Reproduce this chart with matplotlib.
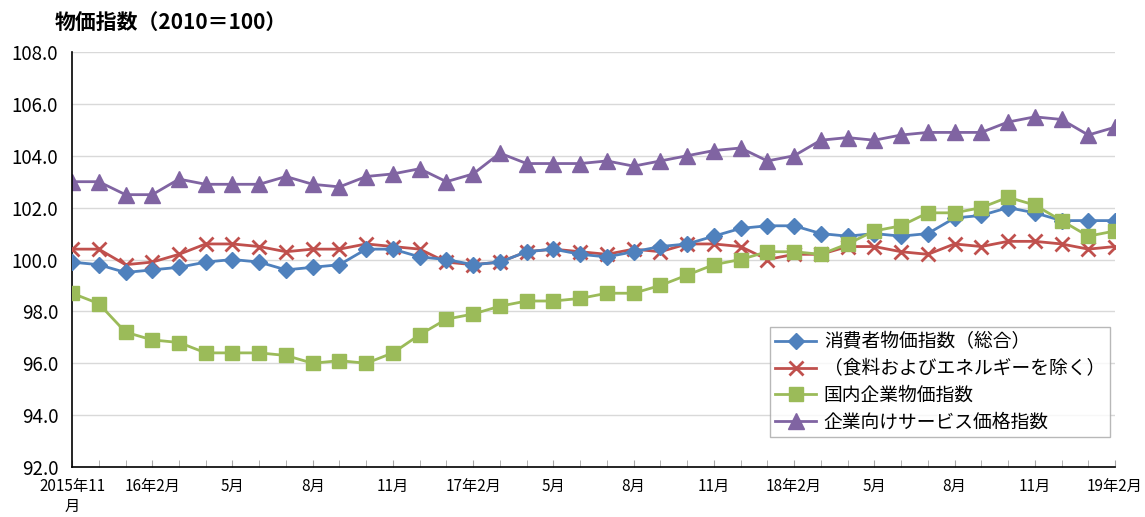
import matplotlib
matplotlib.use("Agg")
import matplotlib.pyplot as plt
from matplotlib.ticker import MultipleLocator, FixedLocator

plt.rcParams['font.family'] = ['Noto Sans CJK JP', 'DejaVu Sans']

# 2015年11月 ～ 2019年2月 (月次)
x_labels = ['2015年11\n月', '16年2月', '5月', '8月', '11月', '17年2月', '5月',
            '8月', '11月', '18年2月', '5月', '8月', '11月', '19年2月']

cpi = [99.9, 99.8, 99.5, 99.6, 99.7, 99.9, 100.0, 99.9, 99.6, 99.7,
       99.8, 100.4, 100.4, 100.1, 100.0, 99.8, 99.9, 100.3, 100.4, 100.2,
       100.1, 100.3, 100.5, 100.6, 100.9, 101.2, 101.3, 101.3, 101.0, 100.9,
       101.0, 100.9, 101.0, 101.6, 101.7, 102.0, 101.8, 101.5, 101.5, 101.5]
core_cpi = [100.4, 100.4, 99.8, 99.9, 100.2, 100.6, 100.6, 100.5, 100.3, 100.4,
            100.4, 100.6, 100.5, 100.4, 99.9, 99.8, 99.9, 100.3, 100.4, 100.3,
            100.2, 100.4, 100.3, 100.6, 100.6, 100.5, 100.0, 100.2, 100.2, 100.5,
            100.5, 100.3, 100.2, 100.6, 100.5, 100.7, 100.7, 100.6, 100.4, 100.5]
cgpi = [98.7, 98.3, 97.2, 96.9, 96.8, 96.4, 96.4, 96.4, 96.3, 96.0,
        96.1, 96.0, 96.4, 97.1, 97.7, 97.9, 98.2, 98.4, 98.4, 98.5,
        98.7, 98.7, 99.0, 99.4, 99.8, 100.0, 100.3, 100.3, 100.2, 100.6,
        101.1, 101.3, 101.8, 101.8, 102.0, 102.4, 102.1, 101.5, 100.9, 101.1]
sppi = [103.0, 103.0, 102.5, 102.5, 103.1, 102.9, 102.9, 102.9, 103.2, 102.9,
        102.8, 103.2, 103.3, 103.5, 103.0, 103.3, 104.1, 103.7, 103.7, 103.7,
        103.8, 103.6, 103.8, 104.0, 104.2, 104.3, 103.8, 104.0, 104.6, 104.7,
        104.6, 104.8, 104.9, 104.9, 104.9, 105.3, 105.5, 105.4, 104.8, 105.1]

names = ['消費者物価指数（総合）', '（食料およびエネルギーを除く）',
         '国内企業物価指数', '企業向けサービス価格指数']

fig = plt.figure(figsize=(11.45, 5.17), dpi=100)
ax = fig.add_axes([0.0629, 0.0967, 0.9109, 0.8027])

x = list(range(len(cpi)))
ax.plot(x, cpi, color='#4F81BD', lw=2, marker='D', ms=8, label=names[0], zorder=4)
ax.plot(x, core_cpi, color='#C0504D', lw=2, marker='x', ms=10, mew=2, label=names[1], zorder=3)
ax.plot(x, cgpi, color='#9BBB59', lw=2, marker='s', ms=10, label=names[2], zorder=5)
ax.plot(x, sppi, color='#8064A2', lw=2, marker='^', ms=11, label=names[3], zorder=2)

ax.set_xlim(0, len(x) - 1)
ax.set_ylim(92, 108)
ax.yaxis.set_major_locator(MultipleLocator(2))
ax.set_yticklabels([f'{v:.1f}' for v in ax.get_yticks()])
ax.yaxis.grid(True, color='#D9D9D9', lw=1)
ax.set_axisbelow(True)

ax.xaxis.set_major_locator(FixedLocator(list(range(0, len(x), 3))))
ax.set_xticklabels(x_labels)
ax.xaxis.set_minor_locator(MultipleLocator(1))
ax.tick_params(axis='x', which='both', direction='in', length=5, color='#A6A6A6',
               labelsize=11, pad=8)
ax.tick_params(axis='y', length=0, labelsize=13.5, pad=10)

for s in ['top', 'right']:
    ax.spines[s].set_visible(False)
for s in ['left', 'bottom']:
    ax.spines[s].set_color('black')
    ax.spines[s].set_linewidth(1.2)

leg = ax.legend(loc='lower right', bbox_to_anchor=(0.995, 0.072), borderaxespad=0,
                fontsize=13.5, frameon=True, fancybox=False, handlelength=2.2,
                labelspacing=0.3, borderpad=0.25, handletextpad=0.4)
leg.get_frame().set_edgecolor('#A6A6A6')
leg.get_frame().set_linewidth(1)

fig.text(0.048, 0.955, '物価指数（2010＝100）', fontsize=15, fontweight='bold',
         va='center', ha='left')

fig.savefig('out.png', dpi=100)
